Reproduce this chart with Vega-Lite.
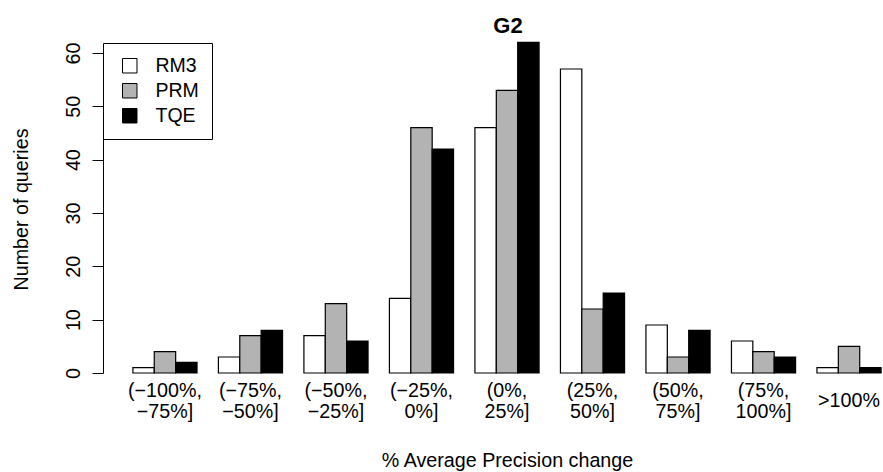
{
  "$schema": "https://vega.github.io/schema/vega-lite/v6.json",
  "width": 780,
  "height": 320,
  "autosize": {"type": "none"},
  "padding": {"left": 103, "top": 53, "right": 0, "bottom": 99},
  "background": "white",
  "config": {
    "view": {"stroke": null},
    "font": "Liberation Sans",
    "axis": {"labelColor": "black", "titleColor": "black", "domainColor": "black", "tickColor": "black", "titleFontWeight": "normal"}
  },
  "title": {
    "text": "G2",
    "fontSize": 22,
    "fontWeight": "bold",
    "font": "Liberation Sans",
    "color": "black",
    "anchor": "middle",
    "frame": "group",
    "baseline": "alphabetic",
    "offset": 10,
    "dx": 15,
    "dy": 23
  },
  "data": {
    "values": [
      {"bin": "(−100%,|−75%]", "method": "RM3", "count": 1},
      {"bin": "(−100%,|−75%]", "method": "PRM", "count": 4},
      {"bin": "(−100%,|−75%]", "method": "TQE", "count": 2},
      {"bin": "(−75%,|−50%]", "method": "RM3", "count": 3},
      {"bin": "(−75%,|−50%]", "method": "PRM", "count": 7},
      {"bin": "(−75%,|−50%]", "method": "TQE", "count": 8},
      {"bin": "(−50%,|−25%]", "method": "RM3", "count": 7},
      {"bin": "(−50%,|−25%]", "method": "PRM", "count": 13},
      {"bin": "(−50%,|−25%]", "method": "TQE", "count": 6},
      {"bin": "(−25%,|0%]", "method": "RM3", "count": 14},
      {"bin": "(−25%,|0%]", "method": "PRM", "count": 46},
      {"bin": "(−25%,|0%]", "method": "TQE", "count": 42},
      {"bin": "(0%,|25%]", "method": "RM3", "count": 46},
      {"bin": "(0%,|25%]", "method": "PRM", "count": 53},
      {"bin": "(0%,|25%]", "method": "TQE", "count": 62},
      {"bin": "(25%,|50%]", "method": "RM3", "count": 57},
      {"bin": "(25%,|50%]", "method": "PRM", "count": 12},
      {"bin": "(25%,|50%]", "method": "TQE", "count": 15},
      {"bin": "(50%,|75%]", "method": "RM3", "count": 9},
      {"bin": "(50%,|75%]", "method": "PRM", "count": 3},
      {"bin": "(50%,|75%]", "method": "TQE", "count": 8},
      {"bin": "(75%,|100%]", "method": "RM3", "count": 6},
      {"bin": "(75%,|100%]", "method": "PRM", "count": 4},
      {"bin": "(75%,|100%]", "method": "TQE", "count": 3},
      {"bin": ">100%", "method": "RM3", "count": 1},
      {"bin": ">100%", "method": "PRM", "count": 5},
      {"bin": ">100%", "method": "TQE", "count": 1}
    ]
  },
  "mark": {"type": "bar", "stroke": "black", "strokeWidth": 1.2},
  "encoding": {
    "x": {
      "field": "bin",
      "type": "nominal",
      "sort": null,
      "scale": {"paddingInner": 0.25, "paddingOuter": 0.186, "align": 0.94},
      "axis": {
        "title": "% Average Precision change",
        "titleFontSize": 19.7,
        "titleX": 404,
        "titleY": 93,
        "titleBaseline": "alphabetic",
        "labelAngle": 0,
        "labelFontSize": 19.7,
        "labelBaseline": "middle",
        "labelLineHeight": 21,
        "labelPadding": {"condition": {"test": "datum.value === '>100%'", "value": 27}, "value": 17},
        "labelExpr": "split(datum.value, '|')",
        "domain": false,
        "ticks": false,
        "labelOverlap": false
      }
    },
    "xOffset": {
      "field": "method",
      "type": "nominal",
      "sort": ["RM3", "PRM", "TQE"],
      "scale": {"paddingInner": 0, "paddingOuter": 0}
    },
    "y": {
      "field": "count",
      "type": "quantitative",
      "scale": {"domain": [0, 60], "nice": false},
      "axis": {
        "title": "Number of queries",
        "titleFontSize": 19.7,
        "titleAngle": 270,
        "titleX": -82,
        "titleY": 156,
        "titleBaseline": "middle",
        "titleAlign": "center",
        "values": [0, 10, 20, 30, 40, 50, 60],
        "labelFontSize": 19.7,
        "labelAngle": 270,
        "labelAlign": "center",
        "labelBaseline": "bottom",
        "labelPadding": 9,
        "tickSize": 11,
        "grid": false
      }
    },
    "fill": {
      "field": "method",
      "type": "nominal",
      "sort": ["RM3", "PRM", "TQE"],
      "scale": {"domain": ["RM3", "PRM", "TQE"], "range": ["white", "#b3b3b3", "black"]},
      "legend": {
        "title": null,
        "orient": "none",
        "legendX": 0,
        "legendY": -10,
        "direction": "vertical",
        "fillColor": "white",
        "strokeColor": "black",
        "padding": 13,
        "symbolOffset": 4,
        "symbolType": "square",
        "symbolSize": 210,
        "symbolStrokeColor": "black",
        "symbolStrokeWidth": 1,
        "symbolOpacity": 1,
        "labelFontSize": 19.5,
        "labelColor": "black",
        "labelOffset": 16,
        "rowPadding": 4
      }
    }
  }
}
